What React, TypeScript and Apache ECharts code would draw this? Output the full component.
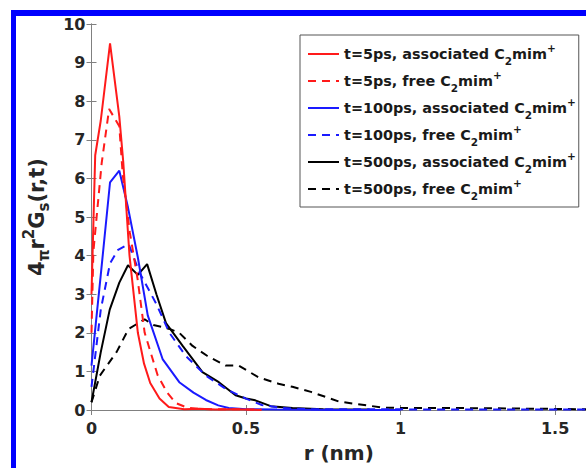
import React, { useEffect, useRef } from "react";
import * as echarts from "echarts";

// r (nm), 4πr²Gs(r,t)
const redSolid: number[][] = [[0,3.0],[0.012,6.6],[0.03,7.5],[0.06,9.5],[0.09,7.6],[0.103,6.4],[0.123,4.0],[0.15,2.0],[0.17,1.2],[0.19,0.7],[0.22,0.3],[0.25,0.08],[0.3,0.02],[0.35,0.03],[0.4,0.01],[0.45,0.02],[0.55,0.0]];
const redDashed: number[][] = [[0,2.0],[0.006,4.1],[0.033,6.4],[0.057,7.8],[0.09,7.35],[0.101,6.1],[0.124,4.6],[0.149,3.4],[0.172,2.0],[0.214,0.9],[0.245,0.45],[0.273,0.18],[0.31,0.06],[0.35,0.03],[0.4,0.02],[0.45,0.02],[0.55,0.01]];
const blueSolid: number[][] = [[0,1.15],[0.03,3.5],[0.06,5.9],[0.09,6.2],[0.118,5.25],[0.15,3.95],[0.182,2.45],[0.23,1.32],[0.284,0.72],[0.33,0.45],[0.37,0.26],[0.41,0.12],[0.444,0.05],[0.5,0.02],[0.6,0.01],[0.8,0.0],[1.0,0.0]];
const blueDashed: number[][] = [[0,0.6],[0.03,2.6],[0.06,3.8],[0.086,4.15],[0.12,4.3],[0.156,3.55],[0.209,2.76],[0.252,2.0],[0.305,1.4],[0.37,0.89],[0.434,0.55],[0.498,0.3],[0.551,0.13],[0.62,0.05],[0.7,0.02],[0.9,0.02],[1.2,0.01],[1.6,0.01]];
const blackSolid: number[][] = [[0,0.2],[0.03,1.5],[0.059,2.6],[0.09,3.3],[0.118,3.75],[0.15,3.5],[0.18,3.78],[0.21,3.0],[0.241,2.25],[0.295,1.66],[0.359,0.98],[0.412,0.72],[0.466,0.38],[0.5,0.3],[0.53,0.25],[0.58,0.1],[0.65,0.05],[0.75,0.02],[0.9,0.01]];
const blackDashed: number[][] = [[0,0.2],[0.027,0.89],[0.081,1.5],[0.12,2.1],[0.172,2.35],[0.2,2.2],[0.23,2.15],[0.252,2.1],[0.284,2.0],[0.327,1.66],[0.375,1.4],[0.434,1.15],[0.476,1.15],[0.54,0.85],[0.605,0.68],[0.65,0.6],[0.71,0.47],[0.8,0.22],[0.86,0.15],[0.947,0.06],[1.03,0.05],[1.2,0.05],[1.35,0.04],[1.6,0.02]];

const seriesNames = [
  "t=5ps, associated",
  "t=5ps, free",
  "t=100ps, associated",
  "t=100ps, free",
  "t=500ps, associated",
  "t=500ps, free",
];
const seriesData = [redSolid, redDashed, blueSolid, blueDashed, blackSolid, blackDashed];
const seriesColors = ["#ff1a1a", "#ff1a1a", "#1a1aff", "#1a1aff", "#000000", "#000000"];
const seriesDashed = [false, true, false, true, false, true];

const xTicks = [0, 0.5, 1, 1.5];
const FONT = "DejaVu Sans";

export default function App() {
  const ref = useRef<HTMLDivElement>(null);
  useEffect(() => {
    if (!ref.current) return;
    const chart = echarts.init(ref.current, null, { renderer: "svg" });
    const axisColor = "#808080";
    const labelStyle = { color: "#262626", fontFamily: FONT, fontWeight: "bold" as const, fontSize: 16 };
    chart.setOption({
      animation: false,
      backgroundColor: "#ffffff",
      graphic: [
        { type: "rect", shape: { x: 11, y: 10, width: 5, height: 470 }, style: { fill: "#0000ff" }, z: 100 },
        { type: "rect", shape: { x: 11, y: 10, width: 590, height: 6 }, style: { fill: "#0000ff" }, z: 100 },
      ],
      grid: { left: 91.5, top: 24, right: -4, bottom: 50, containLabel: false },
      legend: {
        orient: "vertical",
        left: 300,
        top: 35,
        padding: [7, 3, 6, 7],
        itemWidth: 31,
        itemHeight: 14,
        itemGap: 3,
        backgroundColor: "#ffffff",
        borderColor: "#555555",
        borderWidth: 1,
        data: seriesNames,
        itemStyle: { opacity: 0, color: "transparent", borderWidth: 0 },
        formatter: (name: string) => `{a|${name} C}{sub|2}{a|mim}{sup|+}`,
        textStyle: {
          rich: {
            a: { fontFamily: FONT, fontWeight: "bold", fontSize: 14.4, color: "#1a1a1a", lineHeight: 24 },
            sub: { fontFamily: FONT, fontWeight: "bold", fontSize: 10.5, color: "#1a1a1a", lineHeight: 11, verticalAlign: "bottom" },
            sup: { fontFamily: FONT, fontWeight: "bold", fontSize: 10.5, color: "#1a1a1a", lineHeight: 11, verticalAlign: "top" },
          },
        },
      },
      xAxis: [
        {
          type: "value",
          min: 0,
          max: 1.6,
          interval: 0.5,
          name: "r (nm)",
          nameLocation: "middle",
          nameGap: 33,
          nameTextStyle: { fontFamily: FONT, fontWeight: "bold", fontSize: 20, color: "#262626" },
          axisLine: { show: true, lineStyle: { color: axisColor, width: 1 } },
          axisTick: { show: true, inside: true, length: 5, lineStyle: { color: axisColor } },
          axisLabel: {
            ...labelStyle,
            margin: 10,
            showMaxLabel: false,
            formatter: (v: number) => (xTicks.some((t) => Math.abs(t - v) < 1e-6) ? String(v) : ""),
          },
          splitLine: { show: false },
        },
        {
          type: "value",
          position: "top",
          min: 0,
          max: 1.6,
          interval: 0.5,
          axisLine: { show: true, lineStyle: { color: axisColor, width: 1 } },
          axisTick: { show: true, inside: true, length: 5, lineStyle: { color: axisColor } },
          axisLabel: { show: false },
          splitLine: { show: false },
        },
      ],
      yAxis: [
        {
          type: "value",
          min: 0,
          max: 10,
          interval: 1,
          name: "{a|4}{pi|π}{a|r}{sup|2}{a|G}{sub|s}{a|(r,t)}",
          nameLocation: "middle",
          nameGap: 40,
          nameTextStyle: {
            rich: {
              a: { fontFamily: FONT, fontWeight: "bold", fontSize: 21, color: "#262626", lineHeight: 30 },
              pi: { fontFamily: FONT, fontWeight: "bold", fontSize: 15, color: "#262626", lineHeight: 22, verticalAlign: "bottom" },
              sup: { fontFamily: FONT, fontWeight: "bold", fontSize: 15, color: "#262626", lineHeight: 15, verticalAlign: "top" },
              sub: { fontFamily: FONT, fontWeight: "bold", fontSize: 15, color: "#262626", lineHeight: 15, verticalAlign: "bottom" },
            },
          },
          axisLine: { show: true, lineStyle: { color: axisColor, width: 1 } },
          axisTick: { show: true, inside: true, length: 5, lineStyle: { color: axisColor } },
          axisLabel: { ...labelStyle, margin: 6 },
          splitLine: { show: false },
        },
        {
          type: "value",
          position: "right",
          min: 0,
          max: 10,
          interval: 1,
          axisLine: { show: true, lineStyle: { color: axisColor, width: 1 } },
          axisTick: { show: true, inside: true, length: 5, lineStyle: { color: axisColor } },
          axisLabel: { show: false },
          splitLine: { show: false },
        },
      ],
      series: seriesNames.map((name, i) => ({
        name,
        type: "line",
        data: seriesData[i],
        symbol: "none",
        showSymbol: false,
        smooth: false,
        color: seriesColors[i],
        lineStyle: { color: seriesColors[i], width: 2, type: seriesDashed[i] ? [8, 6] : "solid" },
        z: 10 - i,
      })),
    });
    return () => chart.dispose();
  }, []);
  return <div ref={ref} style={{ position: "absolute", left: 0, top: 0, width: 586, height: 468 }} />;
}
